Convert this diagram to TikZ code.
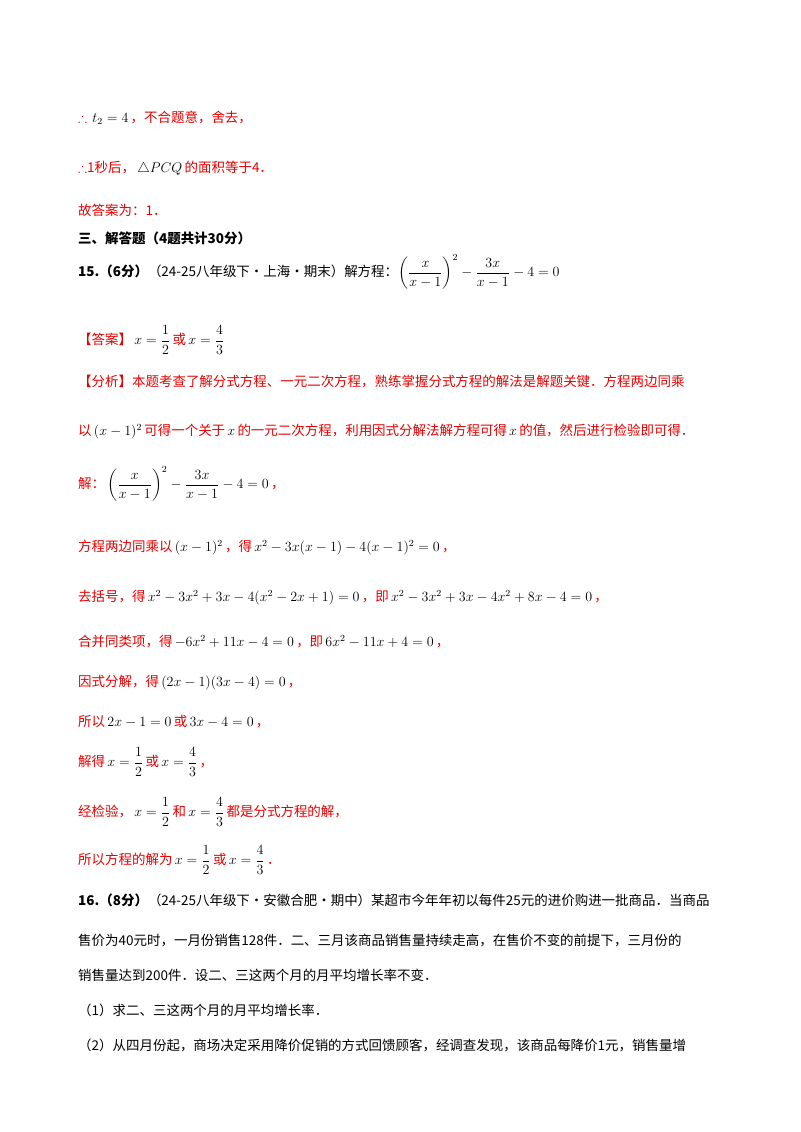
\documentclass[tikz,border=0pt]{standalone}
\usepackage{amsmath,amssymb}
\usepackage{fontspec}
\setmainfont{Noto Sans CJK SC}
\usepackage{tikz}
\usetikzlibrary{positioning}
\definecolor{ansred}{RGB}{230,0,0}
\newcommand{\mth}[1]{\,{\color{black}$#1$}\,}
\begin{document}
\begin{tikzpicture}[x=0.03cm,y=-0.03cm,
        ln/.style = {anchor=west, inner sep=0pt, font=\fontsize{11.5}{14}\selectfont, text=ansred},
        qn/.style = {ln, text=black}
        ]
        \useasboundingbox[fill=white] (0,0) rectangle (800,1132);
        \node[ln] (l1) at (78,118) {$\therefore$\ \mth{t_2=4}，不合题意，舍去，};
        \node[ln] (l2) at (78,168) {$\therefore$1秒后，\mth{\triangle PCQ}的面积等于4．};
        \node[ln] (l3) at (78,210) {故答案为：1．};
        \node[qn] (l4) at (78,238) {\bfseries 三、解答题（4题共计30分）};
        \node[qn] (l5) at (78,272) {\textbf{15.（6分）}（24-25八年级下·上海·期末）解方程：$\left(\dfrac{x}{x-1}\right)^2-\dfrac{3x}{x-1}-4=0$};
        \node[ln] (l6) at (78,340) {【答案】\mth{x=\dfrac12}或\mth{x=\dfrac43}};
        \node[ln] (l7) at (78,382) {【分析】本题考查了解分式方程、一元二次方程，熟练掌握分式方程的解法是解题关键．方程两边同乘};
        \node[ln] (l8) at (78,432) {以\mth{(x-1)^2}可得一个关于\mth{x}的一元二次方程，利用因式分解法解方程可得\mth{x}的值，然后进行检验即可得．};
        \node[ln] (l9) at (78,484) {解：\mth{\left(\dfrac{x}{x-1}\right)^2-\dfrac{3x}{x-1}-4=0}，};
        \node[ln] (l10) at (78,548) {方程两边同乘以\mth{(x-1)^2}，得\mth{x^2-3x(x-1)-4(x-1)^2=0}，};
        \node[ln] (l11) at (78,598) {去括号，得\mth{x^2-3x^2+3x-4(x^2-2x+1)=0}，即\mth{x^2-3x^2+3x-4x^2+8x-4=0}，};
        \node[ln] (l12) at (78,642) {合并同类项，得\mth{-6x^2+11x-4=0}，即\mth{6x^2-11x+4=0}，};
        \node[ln] (l13) at (78,683) {因式分解，得\mth{(2x-1)(3x-4)=0}，};
        \node[ln] (l14) at (78,722) {所以\mth{2x-1=0}或\mth{3x-4=0}，};
        \node[ln] (l15) at (78,762) {解得\mth{x=\dfrac12}或\mth{x=\dfrac43}，};
        \node[ln] (l16) at (78,812) {经检验，\mth{x=\dfrac12}和\mth{x=\dfrac43}都是分式方程的解，};
        \node[ln] (l17) at (78,860) {所以方程的解为\mth{x=\dfrac12}或\mth{x=\dfrac43}．};
        \node[qn] (l18) at (78,900) {\textbf{16.（8分）}（24-25八年级下·安徽合肥·期中）某超市今年年初以每件25元的进价购进一批商品．当商品};
        \node[qn] (l19) at (78,940) {售价为40元时，一月份销售128件．二、三月该商品销售量持续走高，在售价不变的前提下，三月份的};
        \node[qn] (l20) at (78,975) {销售量达到200件．设二、三这两个月的月平均增长率不变．};
        \node[qn] (l21) at (78,1010) {（1）求二、三这两个月的月平均增长率．};
        \node[qn] (l22) at (78,1045) {（2）从四月份起，商场决定采用降价促销的方式回馈顾客，经调查发现，该商品每降价1元，销售量增};
    \end{tikzpicture}
\end{document}
